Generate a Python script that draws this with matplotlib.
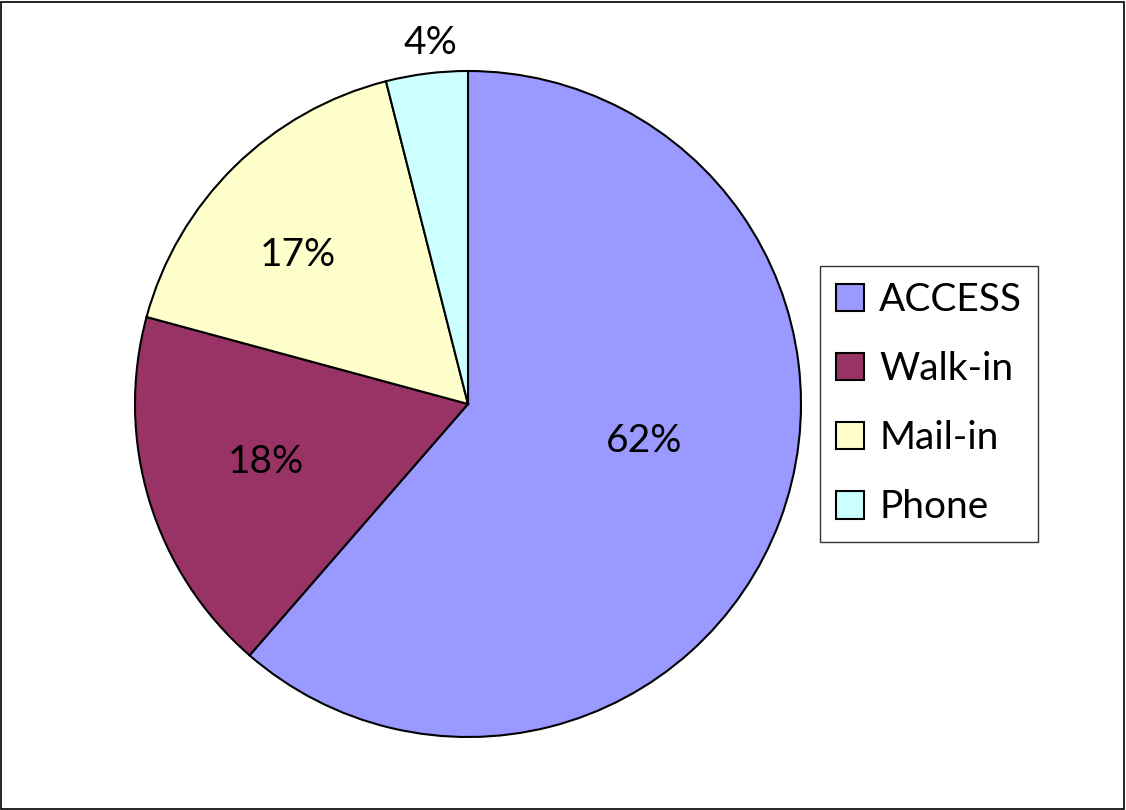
import numpy as np
import matplotlib.pyplot as plt
from matplotlib.patches import Rectangle

categories = ['ACCESS', 'Walk-in', 'Mail-in', 'Phone']
shares = [62, 18, 17, 4]
colors = ['#9999FF', '#993366', '#FFFFCC', '#CCFFFF']

plt.rcParams['font.family'] = ['Lato', 'DejaVu Sans']

fig = plt.figure(figsize=(11.26, 8.10), dpi=100)
fig.patches.append(Rectangle((0.001, 0.001), 0.997, 0.997, transform=fig.transFigure,
                             fill=False, edgecolor='black', linewidth=1.2))

# pie area: centre (468, 404), radius ~333 px
r = 333
cx, cy = 468, 404
ax = fig.add_axes([(cx - r) / 1126, 1 - (cy + r) / 810, 2 * r / 1126, 2 * r / 810])

wedges, _ = ax.pie(shares, colors=colors, startangle=90, counterclock=False,
                   wedgeprops=dict(edgecolor='black', linewidth=1.5))
ax.set_xlim(-1, 1)
ax.set_ylim(-1, 1)
ax.set_aspect('equal')

# percent labels (distance from centre, small angle nudge in degrees)
dist = [0.54, 0.63, 0.68, 1.09]
nudge = [8.7, -1.0, 4.2, -1.2]
for w, v, d, n in zip(wedges, shares, dist, nudge):
    ang = np.deg2rad((w.theta1 + w.theta2) / 2 + n)
    ax.text(d * np.cos(ang), d * np.sin(ang), f'{v}%', ha='center', va='center',
            fontsize=28, clip_on=False)

leg = fig.legend(wedges, categories, loc='upper left',
                 bbox_to_anchor=(820 / 1126, 1 - 266 / 810),
                 fontsize=28, frameon=True, fancybox=False, edgecolor='black',
                 handlelength=0.7, handleheight=0.7, handletextpad=0.4,
                 labelspacing=0.85, borderpad=0.42, borderaxespad=0)
leg.get_frame().set_linewidth(1.0)

fig.savefig('out.png', dpi=100)
